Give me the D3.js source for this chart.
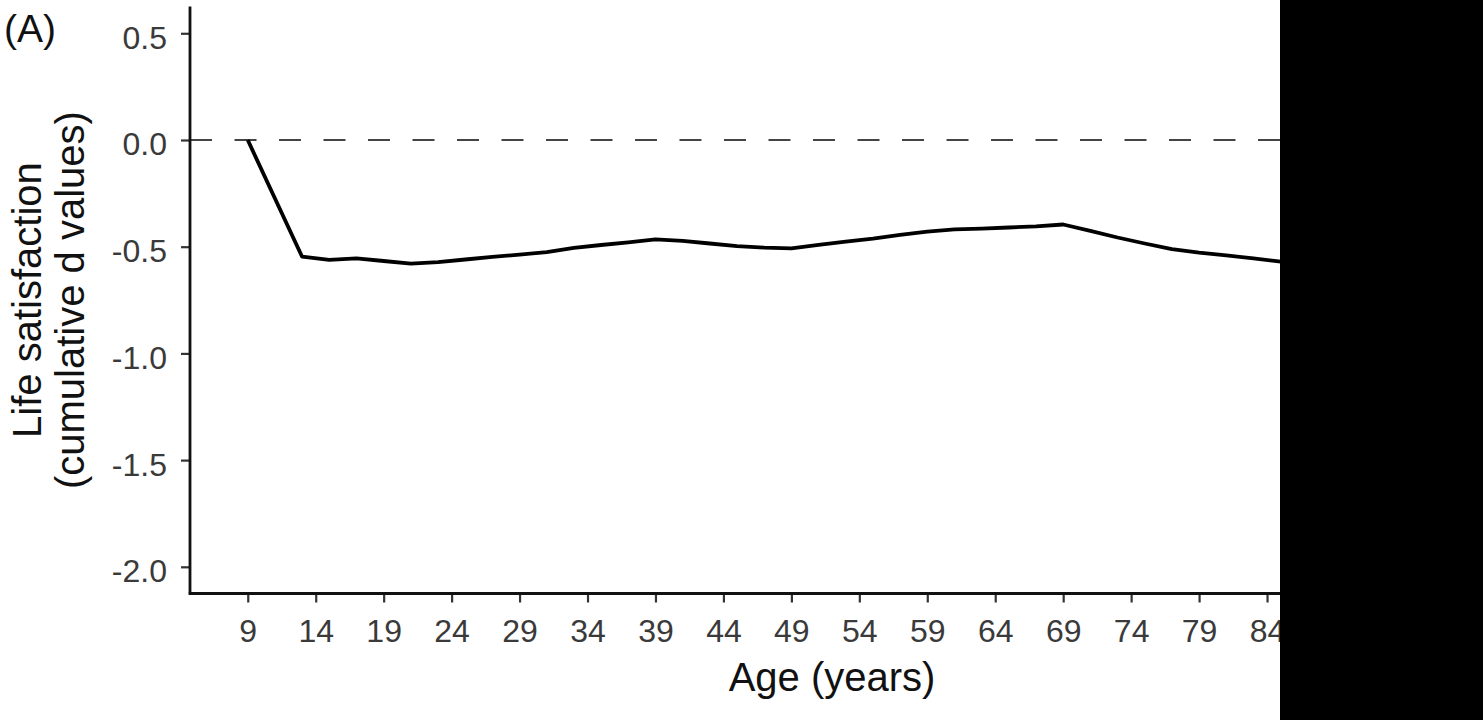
<!DOCTYPE html>
<html>
<head>
<meta charset="utf-8">
<script src="https://cdn.jsdelivr.net/npm/d3@7"></script>
<style>
  html, body { margin: 0; padding: 0; background: #fff; }
  svg { display: block; }
  text { font-family: "Liberation Sans", Arial, sans-serif; }
</style>
</head>
<body>
<svg id="chart" width="1483" height="720"></svg>
<script>
// ---- data ----
const ages = [9, 13, 15, 17, 19, 21, 23, 25, 27, 29, 31, 33, 35, 37, 39, 41, 43, 45, 47, 49,
              51, 53, 55, 57, 59, 61, 63, 65, 67, 69, 71, 73, 75, 77, 79, 81, 83, 85];
const lifeSat = [0, -0.547, -0.562, -0.555, -0.567, -0.579, -0.572, -0.560, -0.548, -0.537,
                 -0.525, -0.506, -0.492, -0.480, -0.466, -0.473, -0.485, -0.497, -0.504, -0.508,
                 -0.492, -0.476, -0.462, -0.445, -0.429, -0.419, -0.415, -0.410, -0.405, -0.396,
                 -0.426, -0.457, -0.485, -0.511, -0.528, -0.541, -0.555, -0.570];
const xTicks = [9, 14, 19, 24, 29, 34, 39, 44, 49, 54, 59, 64, 69, 74, 79, 84, 89, 94];
const yTicks = [0.5, 0.0, -0.5, -1.0, -1.5, -2.0];
const xDomain = [4.75, 98.25];
const yDomain = [-2.125, 0.625];
const panelLabel = "(A)";
const xTitle = "Age (years)";
const yTitleLines = ["Life satisfaction", "(cumulative d values)"];

// ---- layout ----
const svg = d3.select("#chart");
const pLeft = 190, pRight = 1460.7, pTop = 6.6, pBottom = 593.5;

const x = d3.scaleLinear().domain(xDomain).range([pLeft, pRight]);
const y = d3.scaleLinear().domain(yDomain).range([pBottom, pTop]);

// reference line at 0
svg.append("line")
  .attr("x1", pLeft).attr("x2", pRight)
  .attr("y1", y(0)).attr("y2", y(0))
  .attr("stroke", "#444").attr("stroke-width", 2)
  .attr("stroke-dasharray", "22,22.5");

// data line
const pts = ages.map((a, i) => [a, lifeSat[i]]);
svg.append("path")
  .datum(pts)
  .attr("fill", "none")
  .attr("stroke", "#000")
  .attr("stroke-width", 3.8)
  .attr("stroke-linejoin", "round")
  .attr("d", d3.line().x(d => x(d[0])).y(d => y(d[1])));

// axes
const fmtY = d => d3.format(".1f")(d).replace("\u2212", "-");
const yAxis = svg.append("g")
  .attr("transform", `translate(${pLeft},0)`)
  .call(d3.axisLeft(y).tickValues(yTicks).tickFormat(fmtY).tickSizeOuter(0).tickSize(9).tickPadding(0));
const xAxis = svg.append("g")
  .attr("transform", `translate(0,${pBottom})`)
  .call(d3.axisBottom(x).tickValues(xTicks).tickFormat(d3.format("d")).tickSizeOuter(0).tickSize(9).tickPadding(0));

[xAxis, yAxis].forEach(g => {
  g.select(".domain").remove();
  g.selectAll(".tick line").attr("stroke", "#333").attr("stroke-width", 2.2);
  g.selectAll(".tick text")
    .attr("fill", "#3a3a3a")
    .style("font-size", "32px")
    .style("font-family", '"Liberation Sans", Arial, sans-serif');
});
yAxis.selectAll(".tick text").attr("x", -23).attr("dy", null).attr("y", 15).attr("text-anchor", "end");
xAxis.selectAll(".tick text").attr("y", 48).attr("dy", null);

// axis lines
svg.append("line").attr("x1", pLeft).attr("x2", pLeft).attr("y1", pTop).attr("y2", pBottom + 1.2)
  .attr("stroke", "#111").attr("stroke-width", 2.8);
svg.append("line").attr("x1", pLeft - 1.2).attr("x2", pRight).attr("y1", pBottom).attr("y2", pBottom)
  .attr("stroke", "#111").attr("stroke-width", 2.8);

// titles
svg.append("text")
  .attr("x", 832).attr("y", 691)
  .attr("text-anchor", "middle").style("font-size", "40px").attr("fill", "#111")
  .text(xTitle);

yTitleLines.forEach((t, i) => {
  svg.append("text")
    .attr("transform", `translate(${41 + i * 43},${(pTop + pBottom) / 2}) rotate(-90)`)
    .attr("text-anchor", "middle").style("font-size", "40px").attr("fill", "#111")
    .text(t);
});

svg.append("text")
  .attr("x", 4).attr("y", 42)
  .style("font-size", "39px").attr("fill", "#111")
  .text(panelLabel);

// black cover on the right (part of the reference picture)
svg.append("rect")
  .attr("x", 1280).attr("y", 0).attr("width", 1483 - 1280).attr("height", 720)
  .attr("fill", "#000");
</script>
</body>
</html>
